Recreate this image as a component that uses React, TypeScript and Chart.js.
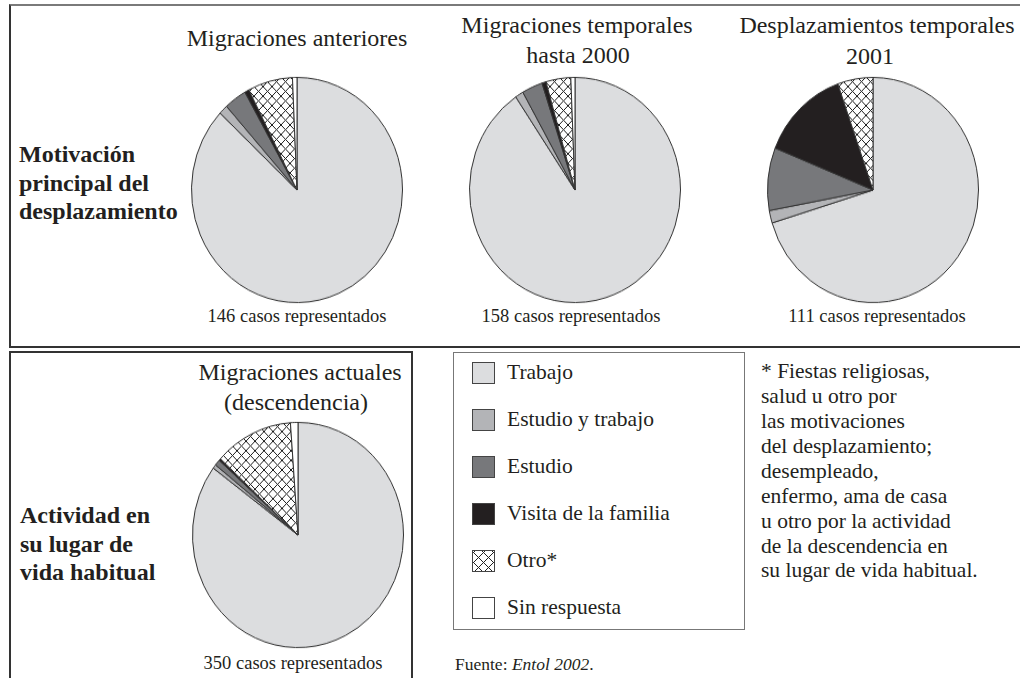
import React, { useEffect, useRef } from "react";
import { Chart, registerables } from "chart.js";
Chart.register(...registerables);

const categories = ["Trabajo", "Estudio y trabajo", "Estudio", "Visita de la familia", "Otro*", "Sin respuesta"];
const migracionesAnteriores = [127, 2, 5, 1, 10, 1];
const migracionesTemporales2000 = [143, 2, 5, 1, 6, 1];
const desplazamientos2001 = [78, 2, 10, 15, 6, 0];
const migracionesActuales = [298, 2, 3, 1, 42, 4];
const casosLabels = ["146 casos representados", "158 casos representados", "111 casos representados", "350 casos representados"];
const pieTitles = [
  ["Migraciones anteriores"],
  ["Migraciones temporales", "hasta 2000"],
  ["Desplazamientos temporales", "2001"],
  ["Migraciones actuales", "(descendencia)"],
];
const rowLabels = [
  ["Motivación", "principal del", "desplazamiento"],
  ["Actividad en", "su lugar de", "vida habitual"],
];
const noteLines = [
  "* Fiestas religiosas,",
  "salud u otro por",
  "las motivaciones",
  "del desplazamiento;",
  "desempleado,",
  "enfermo, ama de casa",
  "u otro por la actividad",
  "de la descendencia en",
  "su lugar de vida habitual.",
];
const sliceColors = ["#dcdddf", "#b3b4b7", "#77787b", "#231f20", "HATCH", "#ffffff"];

const FONT = '"Liberation Serif", "DejaVu Serif", serif';

function makeHatch(size: number): CanvasPattern | string {
  const c = document.createElement("canvas");
  c.width = size;
  c.height = size;
  const ctx = c.getContext("2d");
  if (!ctx) return "#fff";
  ctx.fillStyle = "#ffffff";
  ctx.fillRect(0, 0, size, size);
  ctx.strokeStyle = "#1e1e1e";
  ctx.lineWidth = 1;
  ctx.beginPath();
  ctx.moveTo(-1, -1);
  ctx.lineTo(size + 1, size + 1);
  ctx.moveTo(size + 1, -1);
  ctx.lineTo(-1, size + 1);
  ctx.stroke();
  const p = ctx.createPattern(c, "repeat");
  return p || "#fff";
}

function Pie({ values, cx, cy }: { values: number[]; cx: number; cy: number }) {
  const ref = useRef<HTMLCanvasElement>(null);
  useEffect(() => {
    const canvas = ref.current;
    if (!canvas) return;
    const hatch = makeHatch(9);
    const chart = new Chart(canvas, {
      type: "pie",
      data: {
        labels: categories,
        datasets: [
          {
            data: values,
            backgroundColor: sliceColors.map((s) => (s === "HATCH" ? hatch : s)) as any,
            borderColor: "#333333",
            borderWidth: 1,
          },
        ],
      },
      options: {
        responsive: false,
        animation: false,
        events: [],
        layout: { padding: 0 },
        plugins: { legend: { display: false }, tooltip: { enabled: false } },
      },
    });
    return () => chart.destroy();
  }, [values]);
  return (
    <div
      style={{
        position: "absolute",
        left: cx - 106,
        top: cy - 106,
        width: 212,
        height: 212,
        transform: "scaleY(1.067)",
        transformOrigin: "50% 50%",
      }}
    >
      <canvas ref={ref} width={212} height={212} style={{ width: 212, height: 212, display: "block" }} />
    </div>
  );
}

function Text({
  x,
  y,
  size,
  children,
  align = "center",
  bold = false,
}: {
  x: number;
  y: number;
  size: number;
  children: React.ReactNode;
  align?: "center" | "left";
  bold?: boolean;
}) {
  return (
    <div
      style={{
        position: "absolute",
        left: x,
        top: y - size / 2,
        lineHeight: `${size}px`,
        fontSize: size,
        fontFamily: FONT,
        fontWeight: bold ? "bold" : "normal",
        color: "#231f20",
        whiteSpace: "nowrap",
        transform: align === "center" ? "translateX(-50%)" : undefined,
      }}
    >
      {children}
    </div>
  );
}

function Swatch({ color, y }: { color: string; y: number }) {
  const hatch =
    color === "HATCH"
      ? {
          backgroundColor: "#fff",
          backgroundImage:
            "repeating-linear-gradient(45deg, transparent 0 6px, #222 6px 7px), repeating-linear-gradient(-45deg, transparent 0 6px, #222 6px 7px)",
        }
      : { backgroundColor: color };
  return (
    <div
      style={{
        position: "absolute",
        left: 472,
        top: y - 11,
        width: 23,
        height: 22,
        boxSizing: "border-box",
        border: "1px solid #444",
        ...hatch,
      }}
    />
  );
}

export default function App() {
  const topCx = [297, 574.5, 873];
  const pieData = [migracionesAnteriores, migracionesTemporales2000, desplazamientos2001];
  const TS = 24;
  const CS = 18.5;
  return (
    <div
      style={{
        position: "fixed",
        left: 0,
        top: 0,
        width: 1020,
        height: 678,
        overflow: "hidden",
        background: "#fff",
      }}
    >
      <div
        style={{
          position: "absolute",
          left: 9,
          top: 4,
          width: 1100,
          height: 344,
          boxSizing: "border-box",
          borderTop: "2px solid #7a7a7a",
          borderLeft: "2px solid #333",
          borderBottom: "2px solid #333",
        }}
      />
      <div
        style={{
          position: "absolute",
          left: 9,
          top: 351,
          width: 404,
          height: 400,
          boxSizing: "border-box",
          border: "2px solid #333",
        }}
      />
      <div
        style={{
          position: "absolute",
          left: 453,
          top: 352,
          width: 292,
          height: 278,
          boxSizing: "border-box",
          border: "1.5px solid #777",
        }}
      />

      {pieData.map((d, i) => (
        <Pie key={i} values={d} cx={topCx[i]} cy={190} />
      ))}
      <Pie values={migracionesActuales} cx={297.5} cy={535} />

      <Text x={297} y={38} size={TS}>{pieTitles[0][0]}</Text>
      <Text x={577} y={25} size={TS}>{pieTitles[1][0]}</Text>
      <Text x={578} y={55} size={TS}>{pieTitles[1][1]}</Text>
      <Text x={877} y={25} size={TS}>{pieTitles[2][0]}</Text>
      <Text x={870} y={56} size={TS}>{pieTitles[2][1]}</Text>
      <Text x={300} y={372} size={TS}>{pieTitles[3][0]}</Text>
      <Text x={296} y={402} size={TS}>{pieTitles[3][1]}</Text>

      <Text x={297} y={316} size={CS}>{casosLabels[0]}</Text>
      <Text x={571} y={316} size={CS}>{casosLabels[1]}</Text>
      <Text x={877} y={316} size={CS}>{casosLabels[2]}</Text>
      <Text x={293} y={663} size={CS}>{casosLabels[3]}</Text>

      {rowLabels[0].map((l, i) => (
        <Text key={"r0" + i} x={19} y={154 + i * 28.5} size={24} align="left" bold>
          {l}
        </Text>
      ))}
      {rowLabels[1].map((l, i) => (
        <Text key={"r1" + i} x={20} y={515 + i * 28.5} size={24} align="left" bold>
          {l}
        </Text>
      ))}

      {categories.map((c, i) => (
        <React.Fragment key={c}>
          <Swatch color={sliceColors[i]} y={373 + i * 47} />
          <Text x={507} y={373 + i * 47} size={21.5} align="left">
            {c}
          </Text>
        </React.Fragment>
      ))}

      {noteLines.map((l, i) => (
        <Text key={"n" + i} x={761} y={372 + i * 24.9} size={21.5} align="left">
          {l}
        </Text>
      ))}

      <Text x={455} y={665} size={17.5} align="left">
        Fuente: <i>Entol 2002</i>.
      </Text>
    </div>
  );
}
